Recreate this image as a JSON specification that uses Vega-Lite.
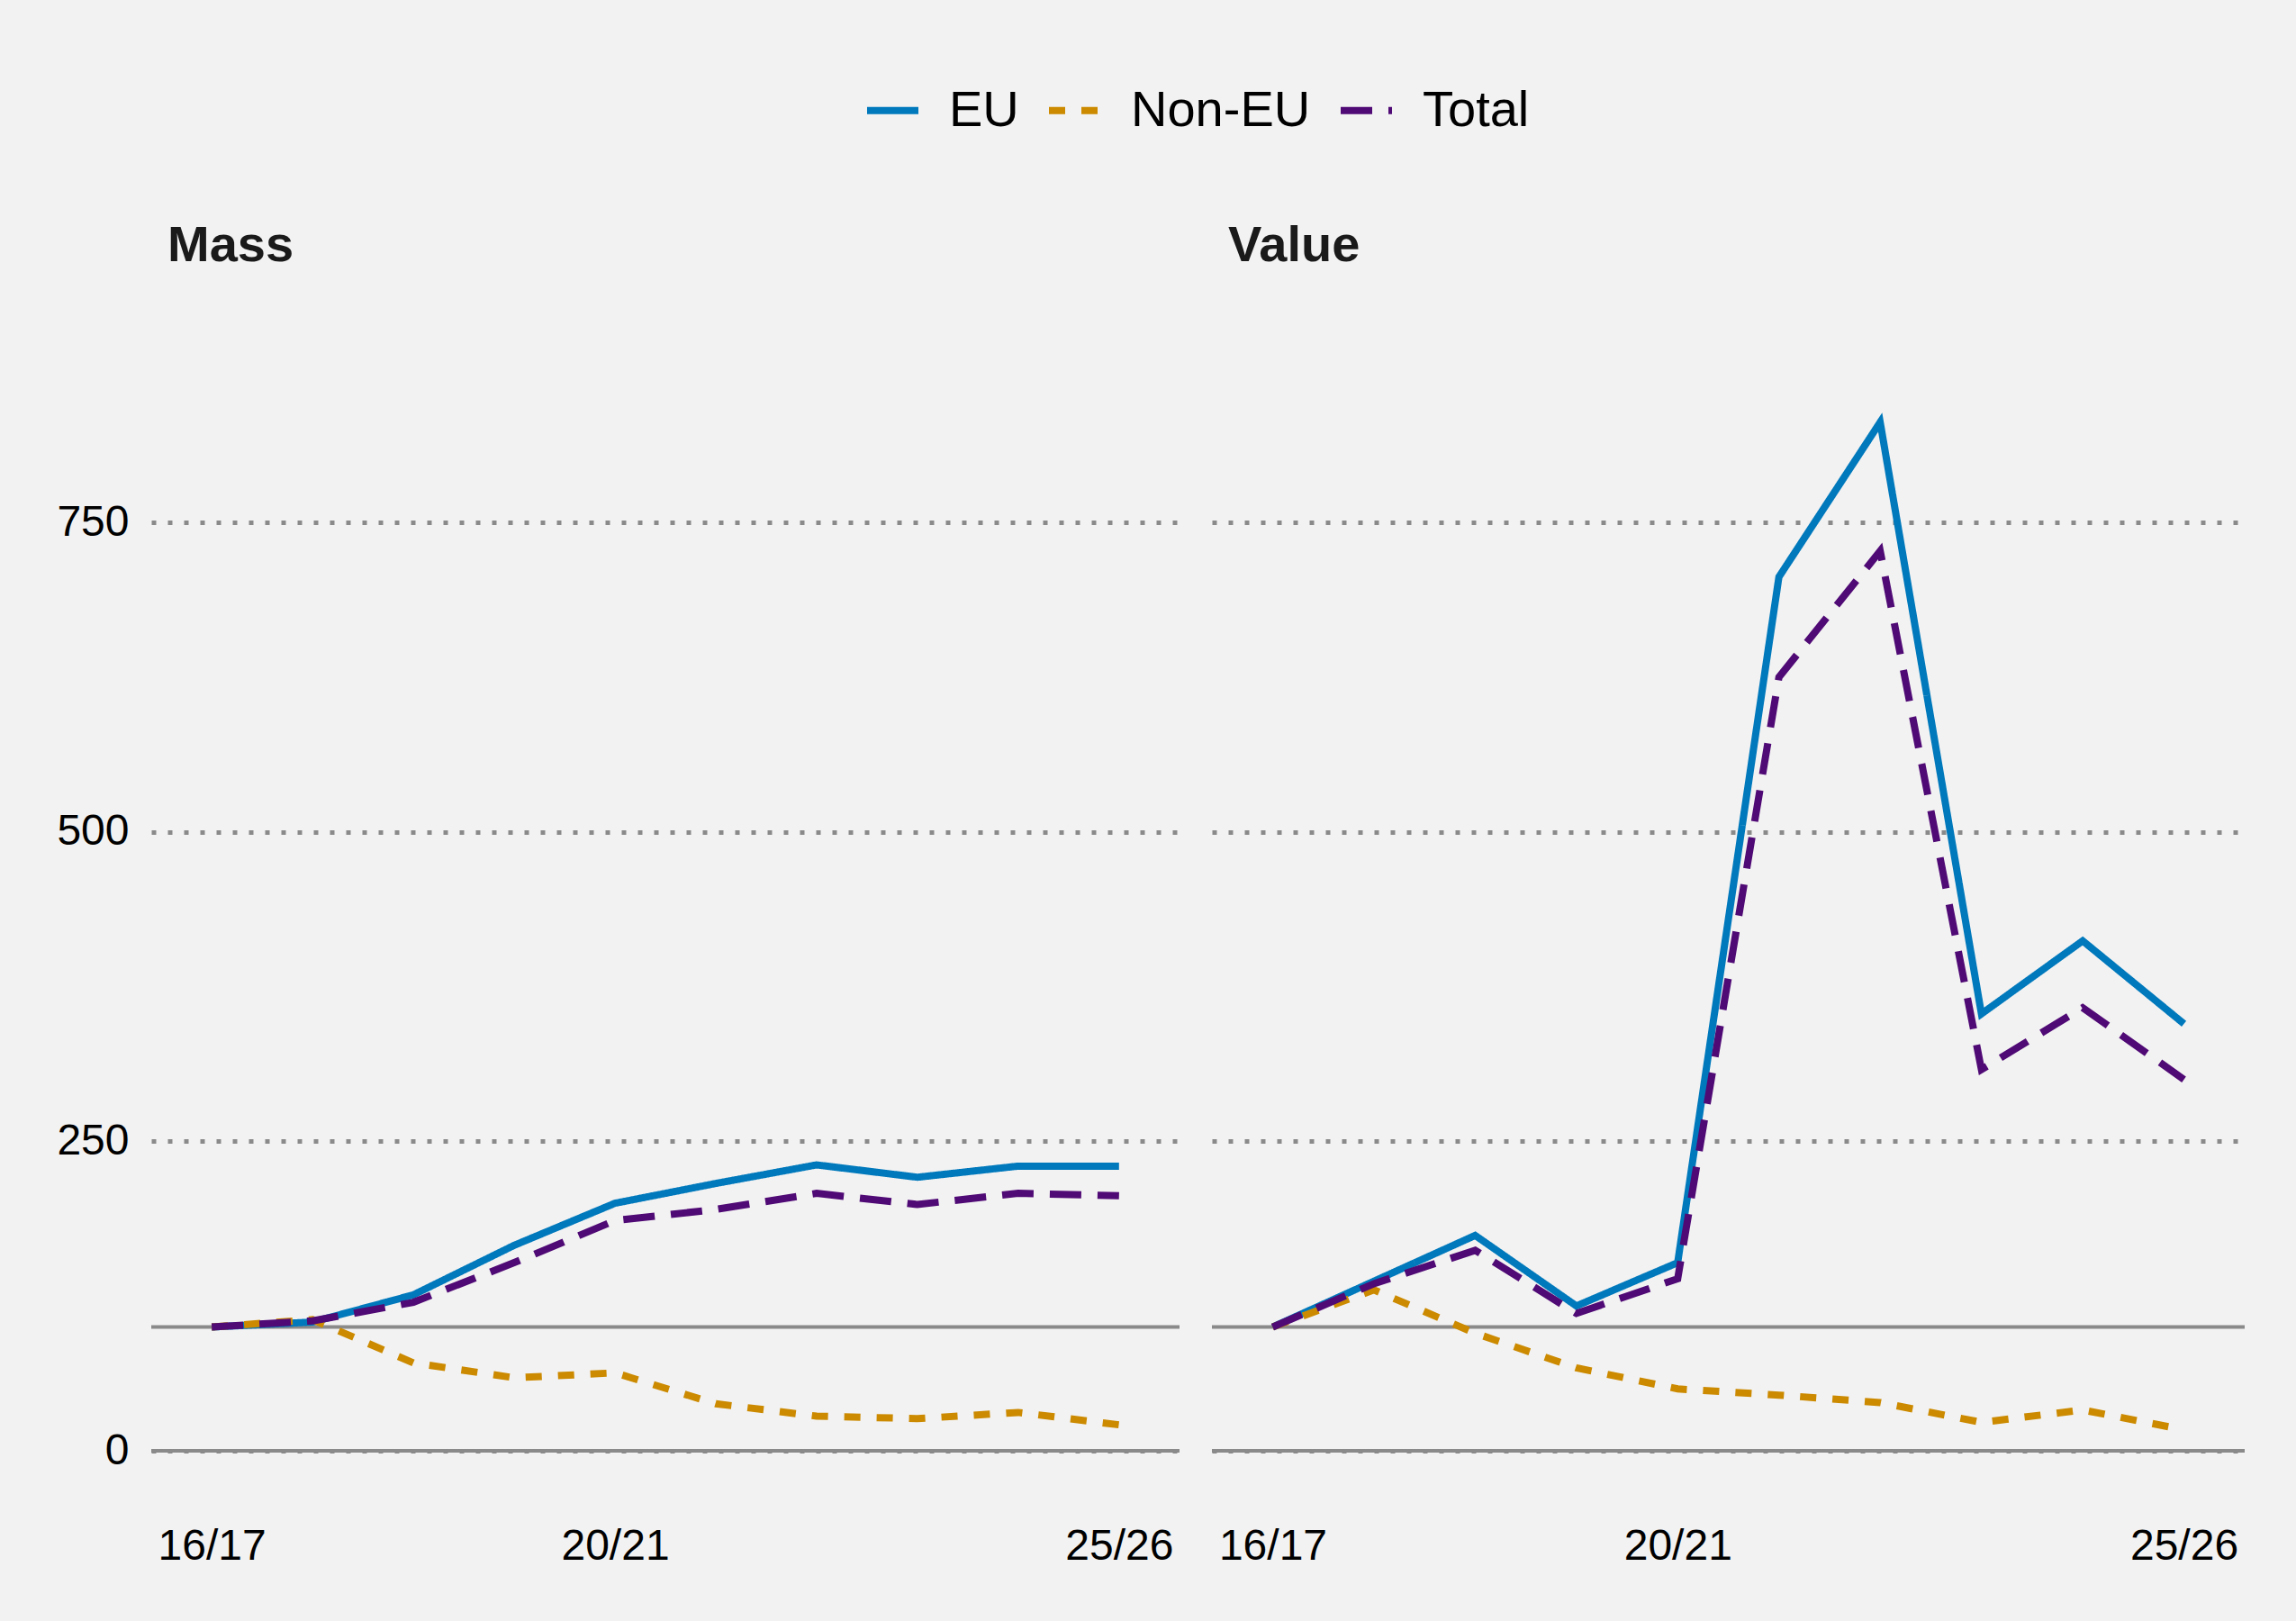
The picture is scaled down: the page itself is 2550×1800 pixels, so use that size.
{
  "$schema": "https://vega.github.io/schema/vega-lite/v6.json",
  "background": "#f2f2f2",
  "padding": {"left": 62, "top": 90, "right": 55, "bottom": 62},
  "config": {
    "font": "Liberation Sans",
    "view": {"stroke": null},
    "title": {"font": "Liberation Sans", "fontSize": 56, "fontWeight": "bold", "color": "#1a1a1a", "anchor": "start", "frame": "group", "dx": 18, "baseline": "alphabetic", "offset": 72},
    "axis": {"labelFont": "Liberation Sans", "labelFontSize": 48, "labelColor": "#000000", "domain": false, "ticks": false, "title": null}
  },
  "data": {
    "values": [
      {"panel": "Mass", "year": "16/17", "series": "EU", "value": 100},
      {"panel": "Mass", "year": "17/18", "series": "EU", "value": 104},
      {"panel": "Mass", "year": "18/19", "series": "EU", "value": 126},
      {"panel": "Mass", "year": "19/20", "series": "EU", "value": 166},
      {"panel": "Mass", "year": "20/21", "series": "EU", "value": 200},
      {"panel": "Mass", "year": "21/22", "series": "EU", "value": 216},
      {"panel": "Mass", "year": "22/23", "series": "EU", "value": 231},
      {"panel": "Mass", "year": "23/24", "series": "EU", "value": 221},
      {"panel": "Mass", "year": "24/25", "series": "EU", "value": 230},
      {"panel": "Mass", "year": "25/26", "series": "EU", "value": 230},
      {"panel": "Mass", "year": "16/17", "series": "Non-EU", "value": 100},
      {"panel": "Mass", "year": "17/18", "series": "Non-EU", "value": 106},
      {"panel": "Mass", "year": "18/19", "series": "Non-EU", "value": 71},
      {"panel": "Mass", "year": "19/20", "series": "Non-EU", "value": 59},
      {"panel": "Mass", "year": "20/21", "series": "Non-EU", "value": 63},
      {"panel": "Mass", "year": "21/22", "series": "Non-EU", "value": 38},
      {"panel": "Mass", "year": "22/23", "series": "Non-EU", "value": 28},
      {"panel": "Mass", "year": "23/24", "series": "Non-EU", "value": 26},
      {"panel": "Mass", "year": "24/25", "series": "Non-EU", "value": 31},
      {"panel": "Mass", "year": "25/26", "series": "Non-EU", "value": 21},
      {"panel": "Mass", "year": "16/17", "series": "Total", "value": 100},
      {"panel": "Mass", "year": "17/18", "series": "Total", "value": 105},
      {"panel": "Mass", "year": "18/19", "series": "Total", "value": 120},
      {"panel": "Mass", "year": "19/20", "series": "Total", "value": 152},
      {"panel": "Mass", "year": "20/21", "series": "Total", "value": 186},
      {"panel": "Mass", "year": "21/22", "series": "Total", "value": 195},
      {"panel": "Mass", "year": "22/23", "series": "Total", "value": 208},
      {"panel": "Mass", "year": "23/24", "series": "Total", "value": 199},
      {"panel": "Mass", "year": "24/25", "series": "Total", "value": 208},
      {"panel": "Mass", "year": "25/26", "series": "Total", "value": 206},
      {"panel": "Value", "year": "16/17", "series": "EU", "value": 100},
      {"panel": "Value", "year": "17/18", "series": "EU", "value": 137},
      {"panel": "Value", "year": "18/19", "series": "EU", "value": 174},
      {"panel": "Value", "year": "19/20", "series": "EU", "value": 117},
      {"panel": "Value", "year": "20/21", "series": "EU", "value": 152},
      {"panel": "Value", "year": "21/22", "series": "EU", "value": 706},
      {"panel": "Value", "year": "22/23", "series": "EU", "value": 831},
      {"panel": "Value", "year": "23/24", "series": "EU", "value": 353},
      {"panel": "Value", "year": "24/25", "series": "EU", "value": 412},
      {"panel": "Value", "year": "25/26", "series": "EU", "value": 345},
      {"panel": "Value", "year": "16/17", "series": "Non-EU", "value": 100},
      {"panel": "Value", "year": "17/18", "series": "Non-EU", "value": 130},
      {"panel": "Value", "year": "18/19", "series": "Non-EU", "value": 95},
      {"panel": "Value", "year": "19/20", "series": "Non-EU", "value": 67},
      {"panel": "Value", "year": "20/21", "series": "Non-EU", "value": 50},
      {"panel": "Value", "year": "21/22", "series": "Non-EU", "value": 45},
      {"panel": "Value", "year": "22/23", "series": "Non-EU", "value": 39},
      {"panel": "Value", "year": "23/24", "series": "Non-EU", "value": 23},
      {"panel": "Value", "year": "24/25", "series": "Non-EU", "value": 33},
      {"panel": "Value", "year": "25/26", "series": "Non-EU", "value": 17},
      {"panel": "Value", "year": "16/17", "series": "Total", "value": 100},
      {"panel": "Value", "year": "17/18", "series": "Total", "value": 135},
      {"panel": "Value", "year": "18/19", "series": "Total", "value": 162},
      {"panel": "Value", "year": "19/20", "series": "Total", "value": 111},
      {"panel": "Value", "year": "20/21", "series": "Total", "value": 139},
      {"panel": "Value", "year": "21/22", "series": "Total", "value": 625},
      {"panel": "Value", "year": "22/23", "series": "Total", "value": 727},
      {"panel": "Value", "year": "23/24", "series": "Total", "value": 308},
      {"panel": "Value", "year": "24/25", "series": "Total", "value": 358},
      {"panel": "Value", "year": "25/26", "series": "Total", "value": 300}
    ]
  },
  "datasets": {
    "refs": [{"ref": 0}, {"ref": 100}]
  },
  "spacing": 32,
  "hconcat": [
    {
      "title": "Mass",
      "width": 1142,
      "height": 1237,
      "layer": [
        {
          "data": {"name": "refs"},
          "mark": {"type": "rule", "color": "#8a8a8a", "strokeWidth": 4},
          "encoding": {
            "y": {"field": "ref", "type": "quantitative", "scale": {"domain": [0, 900], "nice": false},
              "axis": {"values": [0, 250, 500, 750], "labelPadding": 25, "grid": true, "gridColor": "#8a8a8a", "gridWidth": 5, "gridDash": [5, 13]}}
          }
        },
        {
          "transform": [{"filter": "datum.panel === 'Mass'"}],
          "mark": {"type": "line", "strokeWidth": 8, "strokeCap": "butt"},
          "encoding": {
            "x": {"field": "year", "type": "ordinal", "sort": null, "scale": {"type": "point", "padding": 0.6},
              "axis": {"values": ["16/17", "20/21", "25/26"], "labelAngle": 0, "labelPadding": 82, "grid": false}},
            "y": {"field": "value", "type": "quantitative", "scale": {"domain": [0, 900], "nice": false}},
            "color": {"field": "series", "type": "nominal", "scale": {"domain": ["EU", "Non-EU", "Total"], "range": ["#0079bc", "#cc8a00", "#500a75"]},
              "legend": {"title": null, "orient": "none", "direction": "horizontal", "legendX": 791, "legendY": -284, "labelFontSize": 56, "labelFont": "Liberation Sans", "labelColor": "#000000", "labelLimit": 500, "symbolType": "stroke", "symbolSize": 3249, "symbolStrokeWidth": 8, "labelOffset": 30, "columnPadding": 17, "padding": 0}},
            "strokeDash": {"field": "series", "type": "nominal", "scale": {"domain": ["EU", "Non-EU", "Total"], "range": [[1, 0], [18, 18], [35, 18]]},
              "legend": {"title": null, "orient": "none", "direction": "horizontal", "legendX": 791, "legendY": -284, "labelFontSize": 56, "labelFont": "Liberation Sans", "labelColor": "#000000", "labelLimit": 500, "symbolType": "stroke", "symbolSize": 3249, "symbolStrokeWidth": 8, "labelOffset": 30, "columnPadding": 17, "padding": 0}}
          }
        }
      ]
    },
    {
      "title": "Value",
      "width": 1147,
      "height": 1237,
      "layer": [
        {
          "data": {"name": "refs"},
          "mark": {"type": "rule", "color": "#8a8a8a", "strokeWidth": 4},
          "encoding": {
            "y": {"field": "ref", "type": "quantitative", "scale": {"domain": [0, 900], "nice": false},
              "axis": {"values": [0, 250, 500, 750], "labels": false, "grid": true, "gridColor": "#8a8a8a", "gridWidth": 5, "gridDash": [5, 13]}}
          }
        },
        {
          "transform": [{"filter": "datum.panel === 'Value'"}],
          "mark": {"type": "line", "strokeWidth": 8, "strokeCap": "butt"},
          "encoding": {
            "x": {"field": "year", "type": "ordinal", "sort": null, "scale": {"type": "point", "padding": 0.6},
              "axis": {"values": ["16/17", "20/21", "25/26"], "labelAngle": 0, "labelPadding": 82, "grid": false}},
            "y": {"field": "value", "type": "quantitative", "scale": {"domain": [0, 900], "nice": false}},
            "color": {"field": "series", "type": "nominal", "scale": {"domain": ["EU", "Non-EU", "Total"], "range": ["#0079bc", "#cc8a00", "#500a75"]}, "legend": null},
            "strokeDash": {"field": "series", "type": "nominal", "scale": {"domain": ["EU", "Non-EU", "Total"], "range": [[1, 0], [18, 18], [35, 18]]}, "legend": null}
          }
        }
      ]
    }
  ]
}
